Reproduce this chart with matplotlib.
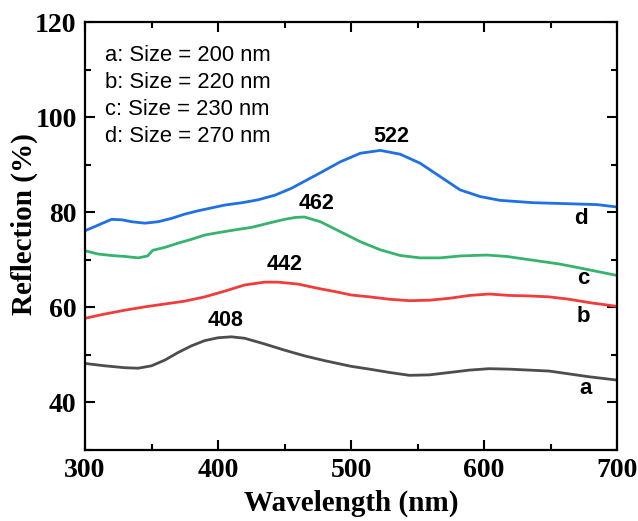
import matplotlib
matplotlib.use("Agg")
import matplotlib.pyplot as plt
from matplotlib.ticker import MultipleLocator

# spectra (wavelength nm, reflection %)
wl_a = [300, 315, 330, 340, 350, 360, 370, 380, 390, 400, 410, 420, 435, 450, 465, 480,
        500, 514, 529, 544, 559, 574, 589, 604, 619, 634, 649, 664, 679, 700]
ref_a = [48.2, 47.7, 47.3, 47.2, 47.7, 48.9, 50.5, 51.9, 53.0, 53.6, 53.8, 53.5, 52.3, 51.0, 49.8, 48.8,
         47.6, 47.0, 46.3, 45.7, 45.8, 46.3, 46.8, 47.1, 47.0, 46.8, 46.6, 46.0, 45.4, 44.7]

wl_b = [300, 315, 330, 345, 360, 375, 390, 405, 420, 435, 445, 460, 475, 490, 500, 514,
        529, 544, 559, 574, 589, 604, 619, 634, 649, 664, 679, 700]
ref_b = [57.7, 58.6, 59.4, 60.1, 60.7, 61.3, 62.2, 63.4, 64.7, 65.3, 65.3, 64.9, 64.0, 63.2, 62.6, 62.2,
         61.7, 61.4, 61.5, 61.9, 62.5, 62.8, 62.5, 62.4, 62.2, 61.7, 61.0, 60.2]

wl_c = [300, 310, 320, 330, 340, 347, 351, 360, 370, 380, 390, 400, 413, 425, 438, 450, 458, 465,
        477, 492, 507, 522, 537, 552, 567, 582, 602, 617, 637, 657, 677, 700]
ref_c = [71.9, 71.2, 70.9, 70.7, 70.4, 70.8, 72.0, 72.6, 73.5, 74.3, 75.2, 75.7, 76.3, 76.8, 77.7, 78.5, 78.9, 79.0,
         78.0, 75.9, 73.8, 72.1, 70.9, 70.4, 70.4, 70.8, 71.0, 70.7, 69.9, 69.1, 68.0, 66.7]

wl_d = [300, 310, 320, 328, 335, 345, 355, 365, 375, 385, 395, 405, 418, 430, 443, 455, 465,
        477, 492, 507, 522, 537, 552, 567, 582, 597, 612, 637, 662, 685, 700]
ref_d = [76.1, 77.3, 78.5, 78.4, 78.0, 77.7, 78.0, 78.7, 79.6, 80.3, 80.9, 81.5, 82.0, 82.6, 83.6, 85.0, 86.5,
         88.3, 90.6, 92.4, 93.0, 92.2, 90.3, 87.5, 84.7, 83.3, 82.5, 82.0, 81.8, 81.6, 81.1]

legend_lines = ["a: Size = 200 nm", "b: Size = 220 nm", "c: Size = 230 nm", "d: Size = 270 nm"]
peaks = ["408", "442", "462", "522"]

serif = "Liberation Serif"
sans = "Liberation Sans"

fig = plt.figure(figsize=(6.38, 5.21), dpi=100)
ax = fig.add_axes([85 / 638, 71 / 521, 532 / 638, 428 / 521])

ax.plot(wl_a, ref_a, color="#4d4d4d", lw=2)
ax.plot(wl_b, ref_b, color="#f03c3c", lw=2)
ax.plot(wl_c, ref_c, color="#36b36e", lw=2)
ax.plot(wl_d, ref_d, color="#1f6fe5", lw=2)

ax.set_xlim(300, 700)
ax.set_ylim(30, 120)
ax.xaxis.set_major_locator(MultipleLocator(100))
ax.xaxis.set_minor_locator(MultipleLocator(50))
ax.yaxis.set_minor_locator(MultipleLocator(10))
ax.set_yticks([40, 60, 80, 100, 120])
ax.tick_params(which="both", direction="in", top=True, right=True, width=1.5)
ax.tick_params(which="major", length=7, pad=6)
ax.tick_params(which="minor", length=4)
for s in ax.spines.values():
    s.set_linewidth(1.6)
for lab in ax.get_xticklabels() + ax.get_yticklabels():
    lab.set_fontfamily(serif)
    lab.set_fontweight("bold")
    lab.set_fontsize(20)

ax.set_xlabel("Wavelength (nm)", fontfamily=serif, fontweight="bold", fontsize=21)
ax.set_ylabel("Reflection (%)", fontfamily=serif, fontweight="bold", fontsize=21)
ax.xaxis.set_label_coords(0.5, -0.093)
ax.yaxis.set_label_coords(-0.088, 0.528)

# legend-like text block
for i, t in enumerate(legend_lines):
    ax.text(315, 113.0 - i * 5.7, t, fontfamily=sans, fontsize=15.8, va="center", ha="left")

# peak labels
ax.text(406, 57.2, peaks[0], fontfamily=sans, fontweight="bold", fontsize=15.5, ha="center", va="center")
ax.text(450, 69.1, peaks[1], fontfamily=sans, fontweight="bold", fontsize=15.5, ha="center", va="center")
ax.text(474, 81.9, peaks[2], fontfamily=sans, fontweight="bold", fontsize=15.5, ha="center", va="center")
ax.text(530, 95.9, peaks[3], fontfamily=sans, fontweight="bold", fontsize=15.5, ha="center", va="center")

# curve letters
ax.text(676, 43.0, "a", fontfamily=sans, fontweight="bold", fontsize=16, ha="center", va="center")
ax.text(675, 58.0, "b", fontfamily=sans, fontweight="bold", fontsize=16, ha="center", va="center")
ax.text(675, 66.1, "c", fontfamily=sans, fontweight="bold", fontsize=16, ha="center", va="center")
ax.text(673, 78.7, "d", fontfamily=sans, fontweight="bold", fontsize=16, ha="center", va="center")

fig.savefig("out.png", dpi=100)
